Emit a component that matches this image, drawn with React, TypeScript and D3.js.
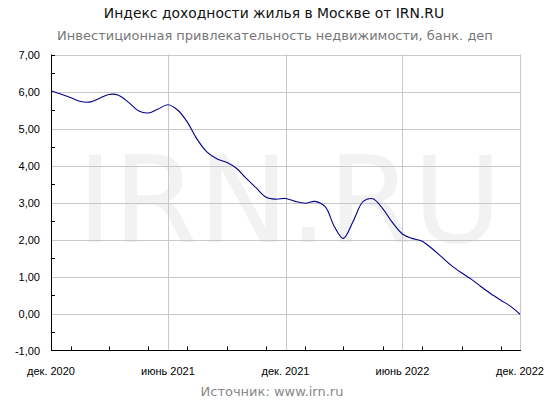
import React from "react";
import * as d3 from "d3";

const TITLE = "Индекс доходности жилья в Москве от IRN.RU";
const SUBTITLE = "Инвестиционная привлекательность недвижимости, банк. деп";
const SOURCE = "Источник: www.irn.ru";
const WATERMARK = "IRN.RU";

const dates = [
  "2020-12-01", "2020-12-16", "2021-01-01", "2021-01-16", "2021-02-01", "2021-02-15",
  "2021-03-01", "2021-03-16", "2021-04-01", "2021-04-16", "2021-05-01", "2021-05-16",
  "2021-06-01", "2021-06-16", "2021-07-01", "2021-07-16", "2021-08-01", "2021-08-16",
  "2021-09-01", "2021-09-16", "2021-10-01", "2021-10-16", "2021-11-01", "2021-11-16",
  "2021-12-01", "2021-12-16", "2022-01-01", "2022-01-16", "2022-02-01", "2022-02-15",
  "2022-03-01", "2022-03-16", "2022-04-01", "2022-04-16", "2022-05-01", "2022-05-16",
  "2022-06-01", "2022-06-16", "2022-07-01", "2022-07-16", "2022-08-01", "2022-08-16",
  "2022-09-01", "2022-09-16", "2022-10-01", "2022-10-16", "2022-11-01", "2022-11-16",
  "2022-12-01",
];

const values = [
  6.02, 5.93, 5.83, 5.73, 5.72, 5.82,
  5.92, 5.90, 5.70, 5.48, 5.42, 5.52,
  5.64, 5.50, 5.18, 4.72, 4.36, 4.18,
  4.08, 3.92, 3.65, 3.40, 3.14, 3.09,
  3.11, 3.03, 2.98, 3.03, 2.88, 2.35,
  2.03, 2.48, 3.03, 3.10, 2.84, 2.47,
  2.15, 2.03, 1.96, 1.77, 1.53, 1.30,
  1.10, 0.93, 0.73, 0.54, 0.36, 0.20,
  -0.02,
];

const yTicks = [-1, 0, 1, 2, 3, 4, 5, 6, 7];
const xLabelDates = ["2020-12-01", "2021-06-01", "2021-12-01", "2022-06-01", "2022-12-01"];
const xLabels = ["дек. 2020", "июнь 2021", "дек. 2021", "июнь 2022", "дек. 2022"];

export default function App() {
  const W = 550, H = 400;
  const left = 51, right = 520, top = 54.5, bottom = 350.5;
  const parse = d3.utcParse("%Y-%m-%d");
  const x = d3.scaleUtc().domain([parse("2020-12-01")!, parse("2022-12-01")!]).range([left, right]);
  const y = d3.scaleLinear().domain([-1, 7]).range([bottom, top]);
  const data = dates.map((d, i) => ({ d: parse(d)!, v: values[i] }));
  const line = d3.line<{ d: Date; v: number }>().x(p => x(p.d)).y(p => y(p.v)).curve(d3.curveCatmullRom.alpha(0.5));
  const minorX = d3.utcMonth.every(2)!.range(parse("2020-12-01")!, parse("2022-12-02")!);
  const minorY = d3.range(-0.5, 7, 1);
  const fmt = (v: number) => d3.format(".2f")(v).replace(".", ",").replace("−", "-");
  const gridColor = "#c8c8c8";
  return (
    <svg width={W} height={H} style={{ position: "absolute", left: 0, top: 0, background: "#fff" }}>
      <rect width={W} height={H} fill="#fff" />
      <text x={274} y={17.5} textAnchor="middle" fontFamily="DejaVu Sans" fontSize={13.9} fill="#111">{TITLE}</text>
      <text x={275} y={39.5} textAnchor="middle" fontFamily="DejaVu Sans" fontSize={13} fill="#777">{SUBTITLE}</text>
      <text x={77} y={242} textLength={425} lengthAdjust="spacingAndGlyphs" fontFamily="DejaVu Sans" fontSize={119} fill="#f2f2f2">{WATERMARK}</text>
      {yTicks.filter(t => t !== -1).map(t => (
        <line key={"gy" + t} x1={left} x2={right} y1={Math.round(y(t)) + 0.5} y2={Math.round(y(t)) + 0.5} stroke={gridColor} />
      ))}
      {xLabelDates.slice(1).map(d => (
        <line key={"gx" + d} x1={Math.round(x(parse(d)!)) + 0.5} x2={Math.round(x(parse(d)!)) + 0.5} y1={top} y2={bottom} stroke={gridColor} />
      ))}
      <path d={line(data)!} fill="none" stroke="#00008b" strokeWidth={1.1} />
      <line x1={left + 0.5} x2={left + 0.5} y1={top} y2={bottom + 0.5} stroke="#000" />
      <line x1={left} x2={right + 1} y1={bottom} y2={bottom} stroke="#000" />
      {minorY.map(t => (
        <line key={"my" + t} x1={left} x2={left + 4} y1={Math.round(y(t)) + 0.5} y2={Math.round(y(t)) + 0.5} stroke="#000" />
      ))}
      <line x1={left} x2={left + 4} y1={Math.round(y(7)) + 0.5} y2={Math.round(y(7)) + 0.5} stroke="#000" />
      {minorX.map(d => (
        <line key={"mx" + d.toISOString()} x1={Math.round(x(d)) + 0.5} x2={Math.round(x(d)) + 0.5} y1={bottom} y2={bottom - 4} stroke="#000" />
      ))}
      {yTicks.map(t => (
        <text key={"ly" + t} x={40} y={y(t) + 4} textAnchor="end" fontFamily="Liberation Sans" fontSize={11} fill="#000">{fmt(t)}</text>
      ))}
      {xLabelDates.map((d, i) => (
        <text key={"lx" + d} x={x(parse(d)!)} y={375} textAnchor="middle" fontFamily="Liberation Sans" fontSize={11} fill="#000">{xLabels[i]}</text>
      ))}
      <text x={272} y={396} textAnchor="middle" fontFamily="DejaVu Sans" fontSize={13} fill="#888">{SOURCE}</text>
    </svg>
  );
}
